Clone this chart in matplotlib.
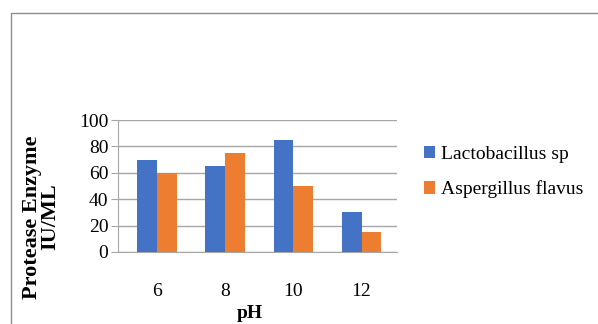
import matplotlib
matplotlib.use("Agg")
import matplotlib.pyplot as plt
import numpy as np
from matplotlib.patches import Rectangle

#Chart data
PH = ["6", "8", "10", "12"]
LACTO = [70, 65, 85, 30]
ASPERG = [60, 75, 50, 15]
SERIES = ["Lactobacillus sp", "Aspergillus flavus"]

BLUE = "#4472C4"
ORANGE = "#ED7D31"
SERIF = "Liberation Serif"

fig = plt.figure(figsize=(5.98, 3.24), dpi=100)
fig.patch.set_facecolor("white")

#Outer chart frame, runs off the right and bottom edges
fig.patches.append(Rectangle((11 / 598, -0.05), 1.0, 1 - 13 / 324 + 0.05,
                             transform=fig.transFigure, fill=False,
                             edgecolor="#8c8c8c", lw=1.0))

ax = fig.add_axes([118 / 598, 1 - 252 / 324, 279 / 598, 132 / 324])
x = np.arange(len(PH))
w = 0.29
ax.bar(x - w / 2, LACTO, w, color=BLUE, label=SERIES[0], zorder=3)
ax.bar(x + w / 2, ASPERG, w, color=ORANGE, label=SERIES[1], zorder=3)

ax.set_xlim(-0.57, 3.52)
ax.set_ylim(0, 100)
ax.set_yticks(range(0, 101, 20))
ax.set_xticks(x)
ax.set_xticklabels(PH)
ax.grid(axis="y", color="#a6a6a6", lw=1.0, zorder=0)
for s in ["top", "right"]:
    ax.spines[s].set_visible(False)
ax.spines["left"].set_color("#a6a6a6")
ax.spines["bottom"].set_color("#a6a6a6")
ax.tick_params(axis="y", length=5, color="#a6a6a6", pad=2)
ax.tick_params(axis="x", length=0, pad=22)
for lab in ax.get_xticklabels() + ax.get_yticklabels():
    lab.set_fontfamily(SERIF)
    lab.set_fontsize(14)

fig.text(250 / 598, 1 - 313 / 324, "pH", ha="center", va="center",
         family=SERIF, fontsize=14, fontweight="bold")
fig.text(41 / 598, 1 - 217 / 324, "Protease Enzyme\nIU/ML", ha="center",
         va="center", rotation=90, family=SERIF, fontsize=16,
         fontweight="bold", linespacing=0.85)

leg = fig.legend(loc="upper left", bbox_to_anchor=(416 / 598, 1 - 138 / 324),
                 frameon=False, prop={"family": SERIF, "size": 14},
                 handlelength=0.6, handleheight=0.6, handletextpad=0.3,
                 labelspacing=0.9, borderaxespad=0)

fig.savefig("out.png", dpi=100)
